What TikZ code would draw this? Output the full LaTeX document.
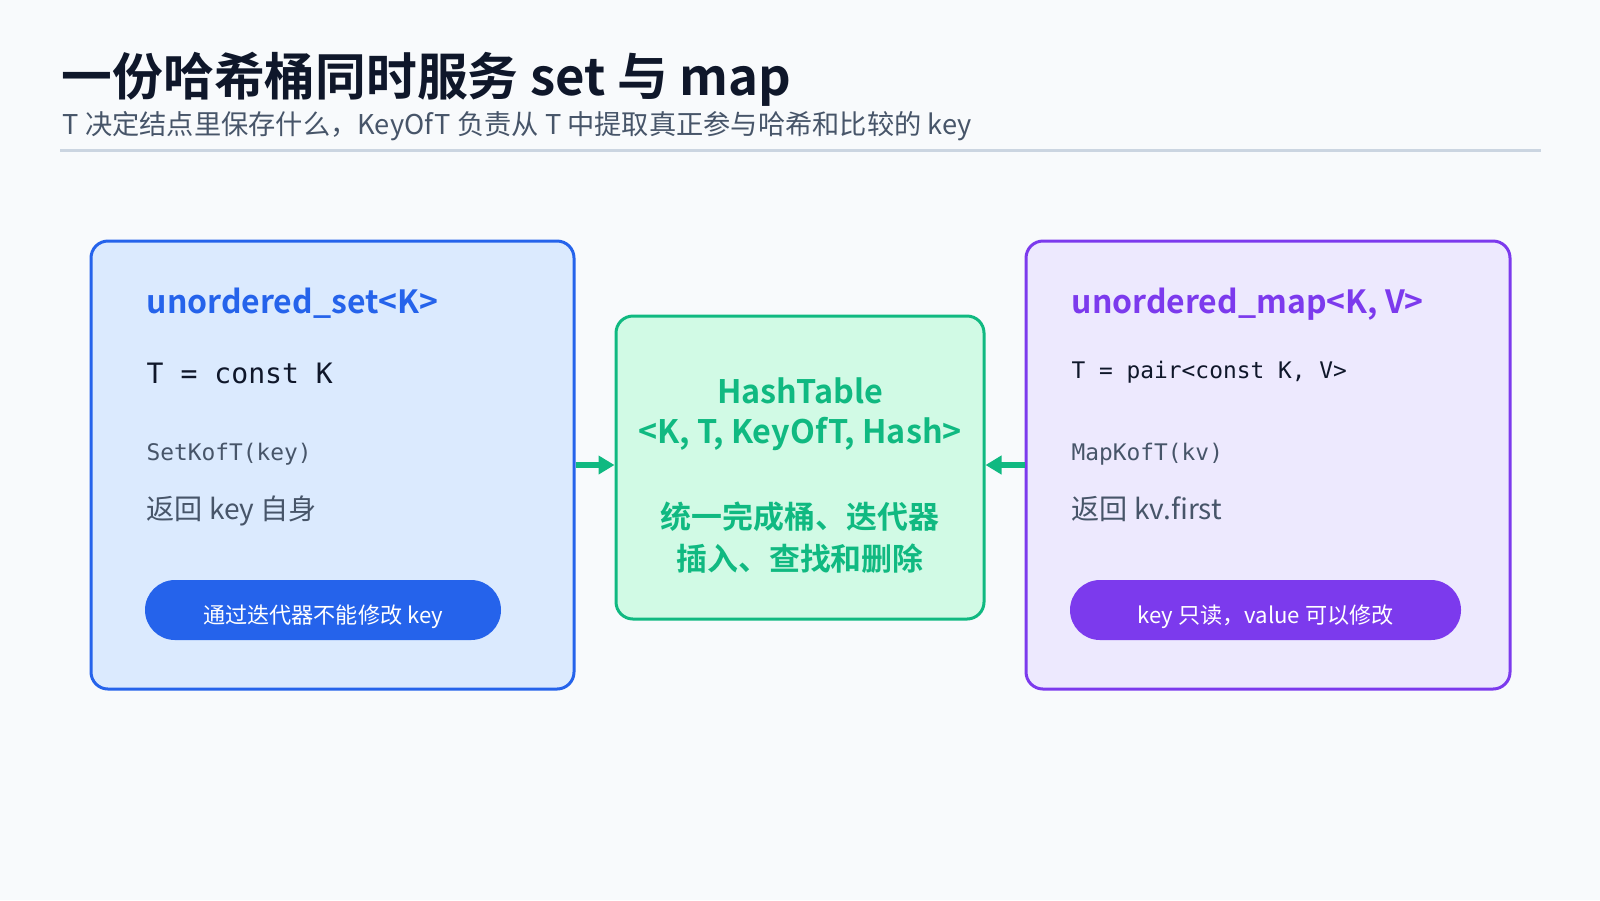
\documentclass[tikz,border=0pt]{standalone}
\usepackage{fontspec}
\setmainfont{Noto Sans CJK SC}[BoldFont={Noto Sans CJK SC Bold}]
\newfontfamily\codefont{DejaVu Sans Mono}
\usepackage{xcolor}
\usetikzlibrary{arrows.meta}

\definecolor{pagebg}{HTML}{F8FAFC}
\definecolor{inkdark}{HTML}{0F172A}
\definecolor{inkgray}{HTML}{475569}
\definecolor{rulegray}{HTML}{CBD5E1}
\definecolor{setblue}{HTML}{2563EB}
\definecolor{setfill}{HTML}{DBEAFE}
\definecolor{mapviolet}{HTML}{7C3AED}
\definecolor{mapfill}{HTML}{EDE9FE}
\definecolor{hashgreen}{HTML}{10B981}
\definecolor{hashfill}{HTML}{D1FAE5}

\tikzset{
  card/.style={rounded corners=0.17cm, line width=0.3mm, inner sep=0pt},
  pill/.style={rounded corners=0.3cm, inner sep=0pt, minimum height=0.6cm,
    text height=2.6mm, text depth=0mm,
    text=white, font=\fontsize{6.3}{7}\selectfont},
  cardtitle/.style={anchor=base west, inner sep=0pt, font=\bfseries\fontsize{9.1}{10}\selectfont},
  code/.style={anchor=base west, inner sep=0pt, text=inkdark},
  note/.style={anchor=base west, inner sep=0pt, text=inkgray, font=\fontsize{8}{9}\selectfont},
  hashtext/.style={anchor=base, inner sep=0pt, text=hashgreen, font=\bfseries\fontsize{9.2}{10}\selectfont},
  feed/.style={hashgreen, line width=0.55mm, -{Triangle[length=1.6mm,width=1.8mm]}}
}

\begin{document}
\begin{tikzpicture}[y=-1cm]
  \fill[pagebg] (0,0) rectangle (16,9);
  \useasboundingbox (0,0) rectangle (16,9);

  % heading
  \node[anchor=base west, inner sep=0pt, text=inkdark, font=\bfseries\fontsize{14.45}{16}\selectfont]
    (heading) at (0.61,0.95) {一份哈希桶同时服务 set 与 map};
  \node[anchor=base west, inner sep=0pt, text=inkgray, font=\fontsize{7.75}{9}\selectfont]
    (subheading) at (0.62,1.34) {T 决定结点里保存什么，KeyOfT 负责从 T 中提取真正参与哈希和比较的 key};
  \draw[rulegray, line width=0.3mm] (0.60,1.50) -- (15.41,1.50);

  % the three cards
  \node[card, draw=setblue, fill=setfill, minimum width=4.83cm, minimum height=4.48cm]
    (setbox) at (3.325,4.65) {};
  \node[card, draw=hashgreen, fill=hashfill, minimum width=3.68cm, minimum height=3.03cm]
    (hashbox) at (8.00,4.675) {};
  \node[card, draw=mapviolet, fill=mapfill, minimum width=4.84cm, minimum height=4.48cm]
    (mapbox) at (12.68,4.65) {};

  % unordered_set
  \node[cardtitle, text=setblue] (settitle) at (1.46,3.13) {unordered\_set<K>};
  \node[code, font=\codefont\fontsize{8}{9}\selectfont] (setT) at (1.46,3.83) {T = const K};
  \node[code, text=inkgray, font=\codefont\fontsize{6.5}{7}\selectfont] (setkot) at (1.46,4.60) {SetKofT(key)};
  \node[note] (setret) at (1.46,5.19) {返回 key 自身};
  \node[pill, fill=setblue, minimum width=3.56cm] (setpill) at (3.23,6.10) {通过迭代器不能修改 key};

  % HashTable
  \node[hashtext] (hashname) at (8.00,4.03) {HashTable};
  \node[hashtext] (hashargs) at (8.00,4.43) {<K, T, KeyOfT, Hash>};
  \node[hashtext, font=\bfseries\fontsize{8.8}{9}\selectfont] (hashjob1) at (8.00,5.28) {统一完成桶、迭代器};
  \node[hashtext, font=\bfseries\fontsize{8.8}{9}\selectfont] (hashjob2) at (8.00,5.70) {插入、查找和删除};

  % unordered_map
  \node[cardtitle, text=mapviolet] (maptitle) at (10.71,3.13) {unordered\_map<K, V>};
  \node[code, font=\codefont\fontsize{6.5}{7}\selectfont] (mapT) at (10.71,3.78) {T = pair<const K, V>};
  \node[code, text=inkgray, font=\codefont\fontsize{6.5}{7}\selectfont] (mapkot) at (10.71,4.60) {MapKofT(kv)};
  \node[note] (mapret) at (10.71,5.19) {返回 kv.first};
  \node[pill, fill=mapviolet, minimum width=3.91cm] (mappill) at (12.655,6.10) {key 只读，value 可以修改};

  % both wrappers feed the same table
  \draw[feed] (setbox.east) -- (setbox.east -| hashbox.west);
  \draw[feed] (mapbox.west) -- (mapbox.west -| hashbox.east);
\end{tikzpicture}
\end{document}
